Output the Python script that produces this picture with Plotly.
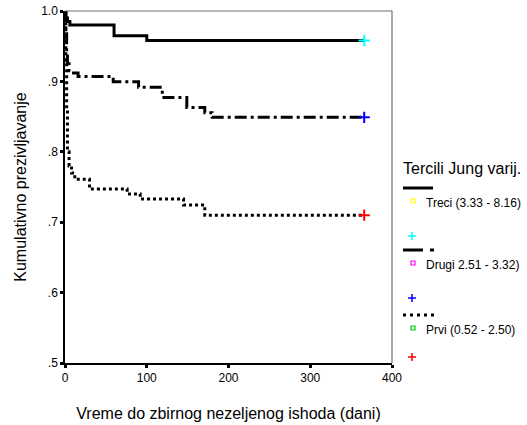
import plotly.graph_objects as go

# ---- data ----
group_names = ["Treci (3.33 - 8.16)", "Drugi 2.51 - 3.32)", "Prvi (0.52 - 2.50)"]
censor_colors = ["#00ffff", "#0000ff", "#ff0000"]
square_colors = ["#ffff00", "#ff00ff", "#00cc00"]

treci_t = [0, 1, 3, 6, 60, 100, 366]
treci_s = [1.0, 0.99, 0.985, 0.98, 0.965, 0.958, 0.958]

drugi_t = [0, 1, 2, 3, 5, 8, 16, 59, 90, 119, 149, 171, 180, 366]
drugi_s = [1.0, 0.97, 0.94, 0.925, 0.915, 0.912, 0.907, 0.8996, 0.8916, 0.877, 0.863, 0.8556, 0.849, 0.849]

prvi_t = [0, 1, 2, 3, 5, 8, 12, 30, 76, 92, 145, 171, 366]
prvi_s = [1.0, 0.93, 0.86, 0.80, 0.78, 0.77, 0.761, 0.747, 0.740, 0.733, 0.7245, 0.710, 0.710]

y_tickvals = [0.5, 0.6, 0.7, 0.8, 0.9, 1.0]
y_ticktext = [".5", ".6", ".7", ".8", ".9", "1.0"]
x_tickvals = [0, 100, 200, 300, 400]

series = [(treci_t, treci_s), (drugi_t, drugi_s), (prvi_t, prvi_s)]
dashes = ["solid", "12px,4px,3px,4px", "3px,3px"]

FONT = "Liberation Sans, Arial, sans-serif"
W, H = 527, 425
ML, MR, MT, MB = 65, 135, 11, 62

fig = go.Figure()
for (t, s), d, cc in zip(series, dashes, censor_colors):
    fig.add_trace(go.Scatter(x=t, y=s, mode="lines", line=dict(color="black", width=3, dash=d, shape="hv"),
                             showlegend=False, hoverinfo="skip"))
    fig.add_trace(go.Scatter(x=[t[-1]], y=[s[-1]], mode="markers",
                             marker=dict(symbol="cross-thin", size=8, line=dict(color=cc, width=2)),
                             showlegend=False, hoverinfo="skip"))

pw = W - ML - MR
ph = H - MT - MB
def px(x):
    return (x - ML) / pw
def py(y):
    return (H - MB - y) / ph

shapes = []
# frame top and right
shapes.append(dict(type="line", xref="paper", yref="paper", x0=0, x1=1, y0=1, y1=1, line=dict(color="#707070", width=1.2)))
shapes.append(dict(type="line", xref="paper", yref="paper", x0=1, x1=1, y0=0, y1=1, line=dict(color="#707070", width=1.2)))

annotations = []
annotations.append(dict(xref="paper", yref="paper", x=px(401), y=py(168), text="Tercili Jung varij.",
                        showarrow=False, xanchor="left", yanchor="middle", font=dict(family=FONT, size=16, color="black")))

rows = [188, 250, 315]
for i, (name, sc, cc) in enumerate(zip(group_names, square_colors, censor_colors)):
    yl = rows[i]
    if i == 0:
        shapes.append(dict(type="line", xref="paper", yref="paper", x0=px(403), x1=px(433), y0=py(yl), y1=py(yl),
                           line=dict(color="black", width=3)))
    elif i == 1:
        shapes.append(dict(type="line", xref="paper", yref="paper", x0=px(403), x1=px(423), y0=py(yl), y1=py(yl),
                           line=dict(color="black", width=3)))
        shapes.append(dict(type="line", xref="paper", yref="paper", x0=px(430), x1=px(434), y0=py(yl), y1=py(yl),
                           line=dict(color="black", width=3)))
    else:
        shapes.append(dict(type="line", xref="paper", yref="paper", x0=px(403), x1=px(435), y0=py(yl), y1=py(yl),
                           line=dict(color="black", width=3, dash="3px,4px")))
    ys = yl + 13
    shapes.append(dict(type="rect", xref="paper", yref="paper", x0=px(411), x1=px(415), y0=py(ys - 2), y1=py(ys + 2),
                       line=dict(color=sc, width=1.2)))
    annotations.append(dict(xref="paper", yref="paper", x=px(424), y=py(ys + 2), text=name, showarrow=False,
                            xanchor="left", yanchor="middle", font=dict(family=FONT, size=12, color="black")))
    yc = yl + 48 if i < 2 else yl + 42
    shapes.append(dict(type="line", xref="paper", yref="paper", x0=px(408), x1=px(416), y0=py(yc), y1=py(yc),
                       line=dict(color=cc, width=1.5)))
    shapes.append(dict(type="line", xref="paper", yref="paper", x0=px(412), x1=px(412), y0=py(yc - 4), y1=py(yc + 4),
                       line=dict(color=cc, width=1.5)))

fig.update_layout(
    width=W, height=H,
    margin=dict(l=ML, r=MR, t=MT, b=MB, pad=0, autoexpand=False),
    paper_bgcolor="white", plot_bgcolor="white",
    font=dict(family=FONT, size=12, color="black"),
    shapes=shapes, annotations=annotations,
    showlegend=False,
)
fig.update_xaxes(range=[0, 400], tickvals=x_tickvals, showgrid=False, zeroline=False, automargin=False,
                 showline=True, linecolor="black", linewidth=1.5,
                 ticks="outside", ticklen=3, tickwidth=3, tickcolor="black",
                 tickfont=dict(family=FONT, size=12),
                 title=dict(text="Vreme do zbirnog nezeljenog ishoda (dani)", font=dict(family=FONT, size=16), standoff=24))
fig.update_yaxes(range=[0.5, 1.0], tickvals=y_tickvals, ticktext=y_ticktext, showgrid=False, zeroline=False, automargin=False,
                 showline=True, linecolor="black", linewidth=1.5,
                 ticks="outside", ticklen=3, tickwidth=3, tickcolor="black",
                 tickfont=dict(family=FONT, size=12),
                 title=dict(text="Kumulativno prezivljavanje", font=dict(family=FONT, size=16), standoff=11))

fig.write_html("out.html")
